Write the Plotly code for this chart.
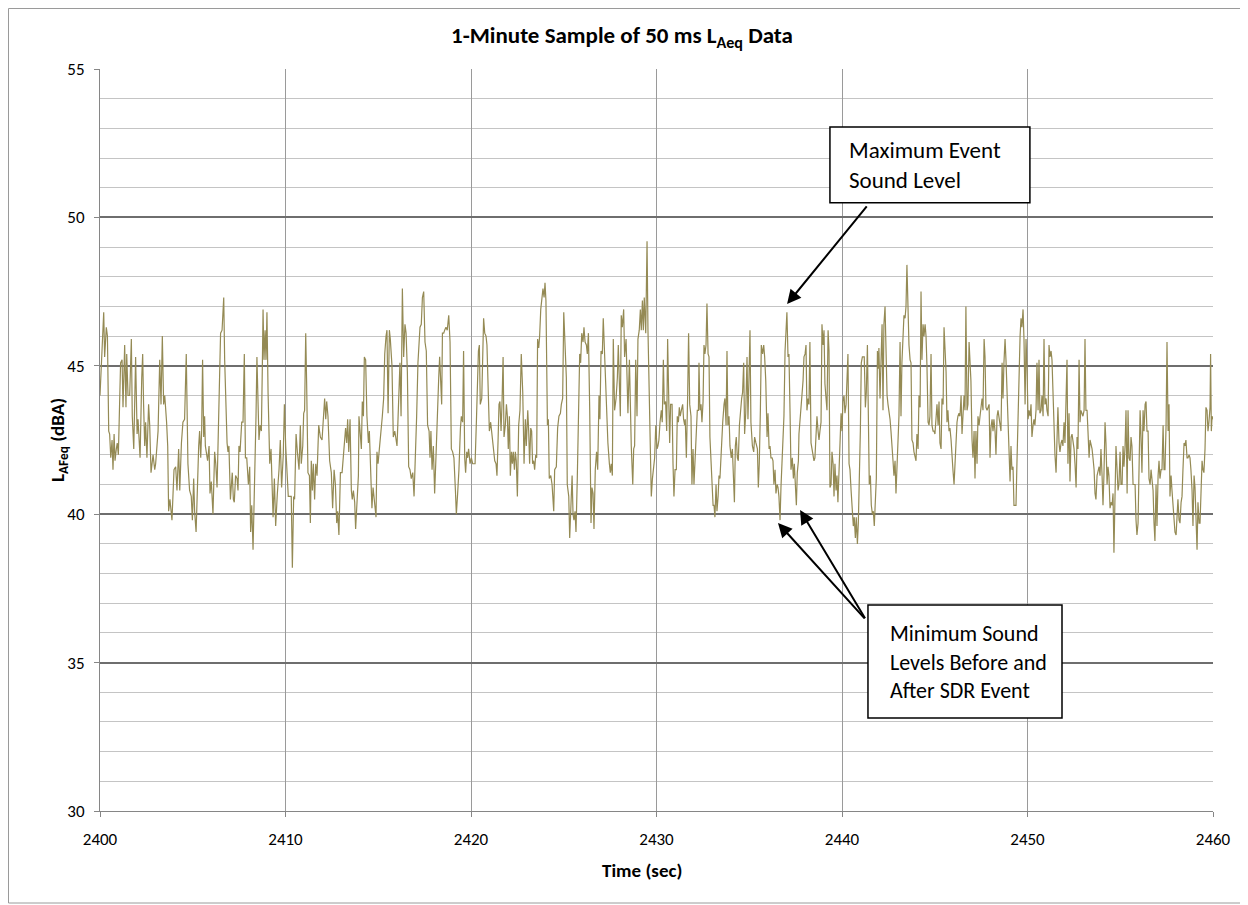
import numpy as np
import plotly.graph_objects as go

# Time offsets (s after 2400 s) and levels (dBA)
t_off = [
 0.00,0.20,0.25,0.34,0.40,0.47,0.52,0.58,0.65,0.70,0.76,0.81,0.88,0.93,0.99,1.04,1.11,1.19,1.24,1.33,1.40,1.44,1.51,1.60,1.69,1.74,1.82,1.92,2.00,2.05,2.10,2.16,2.25,2.30,2.35,2.41,2.46,2.53,2.62,2.68,2.75,2.86,2.95,3.00,3.13,3.22,3.29,3.36,3.43,3.49,3.59,3.65,3.70,3.77,3.88,3.99,4.08,4.15,4.24,4.30,4.39,4.47,4.56,4.65,4.74,4.83,4.92,4.98,5.05,5.10,5.18,5.28,
 5.32,5.37,5.43,5.48,5.53,5.59,5.64,5.68,5.75,5.80,5.88,5.93,6.00,6.09,6.18,6.24,6.31,6.40,6.50,6.58,6.67,6.72,6.79,6.85,6.90,6.95,7.03,7.13,7.19,7.24,7.31,7.39,7.44,7.49,7.55,7.64,7.71,7.78,7.84,7.91,8.00,8.07,8.12,8.18,8.25,8.34,8.41,8.46,8.52,8.57,8.63,8.70,8.75,8.79,8.84,8.90,8.95,9.00,9.06,9.11,9.15,9.22,9.27,9.33,9.40,9.47,9.56,9.65,9.72,9.79,9.88,9.94,10.01,10.08,10.15,10.22,10.31,10.37,10.44,10.49,10.57,10.64,
 10.73,10.80,10.85,10.93,10.98,11.03,11.09,11.14,11.21,11.29,11.34,11.39,11.45,11.50,11.57,11.63,11.70,11.79,11.88,11.97,12.04,12.11,12.17,12.22,12.29,12.38,12.47,12.54,12.62,12.69,12.76,12.81,12.88,12.96,13.05,13.14,13.24,13.30,13.35,13.41,13.48,13.55,13.60,13.66,13.73,13.78,13.85,13.93,13.96,14.02,14.09,14.14,14.20,14.25,14.32,14.39,14.47,14.52,14.59,14.66,14.72,14.81,14.88,14.93,14.99,15.06,15.13,15.22,15.29,15.35,15.42,15.47,15.53,15.60,15.65,15.74,15.81,15.89,15.94,16.01,16.06,
 16.17,16.23,16.30,16.37,16.44,16.50,16.57,16.64,16.71,16.78,16.86,16.93,17.00,17.07,17.14,17.20,17.25,17.32,17.38,17.45,17.52,17.59,17.66,17.74,17.79,17.84,17.90,17.97,18.04,18.11,18.19,18.26,18.31,18.37,18.42,18.46,18.53,18.58,18.65,18.72,18.80,18.87,18.94,19.01,19.08,19.16,19.21,19.28,19.35,19.43,19.48,19.55,19.60,19.66,19.71,19.77,19.82,19.87,19.95,20.02,20.09,20.16,20.22,20.29,20.34,20.40,20.45,20.50,20.58,20.63,20.68,20.74,20.81,20.86,20.93,20.99,21.06,21.13,21.20,21.28,21.35,21.40,21.46,
 21.51,21.56,21.62,21.67,21.73,21.78,21.85,21.91,21.96,22.01,22.07,22.12,22.18,22.23,22.28,22.34,22.39,22.44,22.50,22.57,22.64,22.71,22.79,22.86,22.93,22.98,23.06,23.11,23.16,23.22,23.27,23.32,23.38,23.43,23.49,23.54,23.59,23.65,23.70,23.76,23.83,23.88,23.94,23.99,24.04,24.12,24.17,24.22,24.30,24.37,24.46,24.51,24.60,24.67,24.74,24.82,24.87,24.94,25.00,25.07,25.14,25.19,25.27,25.32,25.37,25.45,25.50,25.55,25.61,25.66,25.73,25.81,25.86,25.91,25.97,26.04,26.09,26.15,26.22,26.27,26.33,26.40,26.47,26.52,26.58,26.63,26.70,26.77,26.83,
 26.90,26.95,27.01,27.08,27.13,27.19,27.24,27.31,27.38,27.46,27.51,27.56,27.62,27.67,27.74,27.82,27.89,27.94,28.00,28.05,28.10,28.16,28.23,28.28,28.36,28.41,28.46,28.54,28.59,28.64,28.72,28.77,28.82,28.88,28.95,29.00,29.07,29.13,29.18,29.24,29.29,29.34,29.42,29.49,29.54,29.61,29.67,29.72,29.78,29.85,29.90,29.96,30.03,30.08,30.13,30.19,30.26,30.31,30.37,30.42,30.49,30.55,30.60,30.66,30.71,30.76,30.84,30.89,30.94,31.00,31.07,31.12,31.18,31.23,31.28,31.34,31.41,31.46,31.52,31.55,31.61,31.68,31.73,31.79,31.86,31.91,31.97,32.02,32.08,32.15,32.20,32.26,
 32.29,32.34,32.40,32.45,32.51,32.56,32.61,32.67,32.72,32.78,32.83,32.88,32.94,32.99,33.05,33.10,33.15,33.21,33.26,33.32,33.37,33.42,33.50,33.57,33.64,33.69,33.75,33.80,33.85,33.91,33.96,34.03,34.09,34.14,34.20,34.25,34.30,34.36,34.41,34.47,34.54,34.59,34.64,34.70,34.75,34.81,34.88,34.93,34.99,35.04,35.09,35.17,35.24,35.29,35.36,35.44,35.49,35.54,35.60,35.65,35.72,35.78,35.83,35.89,35.96,36.01,36.07,36.12,36.17,36.23,36.28,36.33,36.39,36.44,36.50,36.55,36.60,36.66,36.71,36.77,36.82,36.87,36.93,36.98,37.03,37.09,37.14,37.20,37.25,37.32,37.38,37.43,37.48,37.54,37.59,37.65,
 37.68,37.74,37.79,37.84,37.90,37.95,38.01,38.06,38.11,38.17,38.22,38.27,38.33,38.38,38.44,38.49,38.54,38.60,38.65,38.71,38.76,38.81,38.87,38.92,38.98,39.03,39.08,39.14,39.19,39.25,39.30,39.35,39.41,39.46,39.52,39.57,39.62,39.68,39.73,39.78,39.84,39.89,39.95,40.00,40.05,40.11,40.16,40.22,40.27,40.32,40.38,40.43,40.49,40.54,40.61,40.66,40.72,40.77,40.83,40.88,40.93,40.99,41.04,41.10,41.15,41.20,41.26,41.31,41.37,41.42,41.47,41.53,41.58,41.64,41.69,41.74,41.80,41.85,41.91,41.96,41.99,42.05,42.10,42.16,42.21,42.26,42.32,42.37,42.43,42.48,42.53,42.59,42.64,42.70,42.75,42.80,42.86,42.91,42.96,43.02,
 43.07,43.13,43.18,43.23,43.29,43.34,43.40,43.45,43.50,43.56,43.61,43.67,43.72,43.77,43.83,43.88,43.94,43.99,44.04,44.10,44.15,44.21,44.26,44.31,44.37,44.42,44.48,44.53,44.58,44.64,44.69,44.74,44.80,44.85,44.91,44.96,45.01,45.07,45.12,45.18,45.23,45.28,45.34,45.39,45.45,45.50,45.55,45.61,45.66,45.71,45.77,45.82,45.88,45.93,45.98,46.04,46.09,46.15,46.20,46.25,46.31,46.36,46.42,46.47,46.52,46.58,46.63,46.68,46.74,46.79,46.85,46.90,46.95,47.01,47.06,47.12,47.17,47.22,47.28,47.33,47.39,47.44,47.49,47.55,47.60,47.66,47.71,47.76,47.82,47.87,47.93,47.98,48.03,48.09,48.14,48.19,48.25,48.30,48.36,48.41,
 48.46,48.52,48.57,48.63,48.68,48.73,48.79,48.84,48.90,48.95,49.00,49.06,49.11,49.16,49.22,49.27,49.33,49.38,49.43,49.49,49.54,49.60,49.65,49.70,49.76,49.81,49.87,49.92,49.97,50.03,50.08,50.14,50.19,50.24,50.30,50.35,50.40,50.46,50.51,50.57,50.62,50.67,50.73,50.78,50.84,50.89,50.94,51.00,51.05,51.11,51.16,51.21,51.27,51.32,51.38,51.43,51.48,51.54,51.59,51.64,51.70,51.75,51.81,51.86,51.91,51.97,52.02,52.08,52.13,52.18,52.24,52.29,52.35,52.40,52.45,52.51,52.56,52.62,52.67,52.72,52.78,52.83,52.88,52.94,52.99,53.05,53.10,53.15,53.21,53.26,53.32,53.37,53.42,53.48,53.53,53.59,53.64,53.69,53.75,53.80,
 53.86,53.91,53.96,54.02,54.07,54.12,54.18,54.23,54.29,54.34,54.39,54.45,54.50,54.56,54.61,54.66,54.72,54.77,54.83,54.88,54.93,54.99,55.04,55.10,55.15,55.20,55.26,55.31,55.37,55.42,55.47,55.53,55.58,55.63,55.69,55.74,55.80,55.85,55.90,55.96,56.01,56.07,56.12,56.17,56.23,56.28,56.34,56.39,56.44,56.50,56.55,56.61,56.66,56.71,56.77,56.82,56.87,56.93,56.98,57.04,57.09,57.14,57.20,57.25,57.31,57.36,57.41,57.47,57.52,57.58,57.63,57.68,57.74,57.79,57.84,57.90,57.95,58.01,58.06,58.11,58.17,58.22,58.28,58.33,58.38,58.44,58.49,58.54,58.60,58.65,58.71,58.76,58.81,58.87,58.92,58.98,59.03,59.08,59.14,59.19,59.25,59.30,59.35,59.41,59.46,59.51,59.57,59.62,59.68,59.73,59.78,59.84,59.87,59.91,59.95,60.00,
]

laeq = [
 44.0,46.8,45.3,46.3,46.0,42.8,42.7,41.9,42.5,41.5,42.7,41.8,42.2,42.4,42.0,43.3,45.1,45.2,43.6,45.7,43.6,45.4,44.0,44.0,45.9,43.3,42.2,45.3,42.7,43.2,42.7,41.9,44.6,45.4,43.7,42.3,43.1,41.9,43.7,43.0,41.4,42.0,41.5,41.7,42.8,45.2,43.7,46.0,43.7,44.0,43.1,42.3,40.1,40.5,39.8,41.5,41.6,40.8,42.2,40.8,42.4,43.1,43.2,45.4,41.7,40.8,40.6,39.8,41.2,40.1,39.4,41.7,
 42.3,42.8,41.9,42.8,45.2,42.6,43.3,42.3,41.9,41.8,42.3,40.7,41.1,40.0,42.1,41.7,40.9,43.2,46.1,46.2,47.3,45.2,43.6,42.4,42.1,42.3,40.5,41.4,40.5,40.4,41.3,41.2,40.8,42.3,42.1,43.1,43.1,45.4,41.9,41.9,41.0,41.6,39.4,40.3,38.8,41.0,43.3,45.3,43.9,42.5,43.0,42.8,44.9,46.9,45.2,46.2,45.2,46.8,44.1,43.1,41.7,42.2,41.3,39.9,41.2,39.6,40.7,41.5,42.5,40.9,42.0,43.7,42.3,41.3,40.6,40.6,40.6,38.2,40.6,40.5,42.7,42.1,
 41.5,43.0,41.7,42.3,43.4,43.5,46.1,44.4,41.4,41.3,39.7,41.8,40.8,41.7,40.5,41.7,41.3,43.0,42.6,42.5,43.3,43.9,43.2,43.8,43.3,41.8,41.4,40.2,41.5,41.0,39.7,40.1,39.3,41.4,41.4,42.2,42.9,42.4,43.2,42.1,43.2,40.8,40.5,40.8,40.4,39.5,40.4,41.3,43.3,42.9,42.2,43.8,43.3,45.3,45.2,43.3,42.4,42.8,41.4,40.2,40.9,40.3,39.9,42.1,41.7,42.2,42.6,43.3,43.9,45.4,46.0,46.2,43.4,46.2,45.9,45.0,42.6,42.8,42.6,42.3,43.1,
 45.1,43.3,47.6,45.3,46.4,46.1,44.8,41.6,41.5,41.2,41.4,40.6,41.7,43.3,45.1,46.0,46.3,46.4,47.3,47.5,45.8,45.5,43.0,42.8,41.9,42.8,41.5,42.3,40.7,41.9,43.7,44.6,45.3,44.5,43.7,46.1,46.1,46.2,46.3,46.2,46.7,45.8,42.2,42.1,41.9,40.8,40.0,40.7,41.5,42.9,43.3,43.1,45.5,41.9,41.4,42.1,41.9,42.2,41.7,41.9,41.7,41.7,41.7,43.1,44.3,45.5,45.7,43.7,43.9,45.0,46.6,46.1,46.0,45.7,44.2,42.8,43.1,42.6,42.2,41.8,41.7,41.3,42.5,
 43.7,43.8,42.8,43.7,45.3,42.6,43.0,43.7,43.3,42.2,43.3,41.3,42.1,41.7,42.1,41.5,42.1,41.8,40.6,43.0,43.5,45.4,44.1,41.7,43.2,42.3,43.5,42.8,41.7,42.9,42.8,41.7,41.8,41.5,42.0,41.9,45.9,45.6,46.0,46.9,47.3,47.6,47.3,47.8,47.2,43.0,43.2,41.2,41.3,41.0,40.1,41.5,41.6,42.9,43.3,43.4,43.7,43.9,46.8,45.8,44.6,41.0,40.6,39.2,40.0,41.3,40.0,39.8,40.1,39.4,41.2,43.5,45.4,45.1,46.1,45.8,46.3,45.8,45.7,45.4,46.1,43.5,39.7,40.9,40.7,39.5,41.5,42.1,41.5,
 44.0,43.2,45.5,45.4,46.6,45.5,45.2,44.0,42.4,41.7,41.4,41.7,41.3,45.9,43.5,43.9,44.6,45.7,44.6,43.3,46.7,46.3,46.9,45.3,45.9,44.6,43.4,45.2,43.4,42.3,41.0,42.2,42.3,45.2,43.3,45.9,46.2,46.9,46.2,47.2,46.2,47.3,46.1,49.2,46.2,44.2,41.9,40.6,41.2,41.8,41.9,43.0,42.2,42.3,42.5,43.1,43.5,43.1,45.2,43.7,43.8,42.8,45.9,43.9,42.4,43.7,43.7,41.7,40.6,41.5,41.5,43.3,43.1,43.6,43.3,43.5,43.7,43.2,43.0,43.2,41.9,44.0,46.1,43.7,43.3,41.0,42.2,41.0,41.7,42.8,43.5,43.5,
 45.1,43.5,43.7,43.1,43.8,45.7,45.4,45.7,47.1,45.4,45.3,42.6,41.7,40.7,40.3,40.3,39.9,41.0,40.1,40.6,41.3,41.2,42.4,43.1,43.7,43.9,43.0,45.5,43.0,43.3,42.3,41.9,42.2,41.6,40.4,42.3,42.6,41.9,41.8,43.0,43.7,43.9,44.1,45.1,42.7,43.4,45.3,43.2,44.7,46.2,43.1,42.3,42.1,42.6,42.4,42.2,40.9,41.7,43.5,45.7,45.4,45.7,45.3,44.5,42.6,43.4,42.2,42.3,41.9,41.9,41.8,41.0,41.5,40.7,41.0,40.9,40.6,39.8,40.9,41.9,43.0,43.3,45.5,46.2,46.8,45.3,45.4,43.4,41.5,41.9,41.2,41.7,40.8,40.3,41.4,41.8,
 42.7,43.1,43.5,44.0,44.5,45.3,45.4,45.7,43.5,43.9,43.7,45.8,42.4,42.2,41.9,41.8,41.9,42.6,43.3,42.8,42.5,42.8,43.1,46.4,45.7,46.2,44.4,43.9,43.5,46.2,45.5,40.9,41.0,42.1,41.7,40.6,41.7,40.8,41.3,40.4,41.5,41.8,43.4,42.8,43.8,44.0,43.4,43.7,45.1,45.4,41.7,41.5,40.8,40.4,39.6,39.9,39.2,39.9,39.0,39.7,41.0,42.8,45.1,45.3,45.3,45.3,43.6,44.1,45.7,43.0,41.0,41.3,40.3,40.0,40.1,39.6,40.3,41.2,45.5,44.9,45.6,43.9,45.1,46.4,43.5,46.4,47.0,45.5,44.0,43.7,43.5,43.2,42.8,42.4,41.8,41.3,41.8,40.7,41.7,42.6,
 43.3,45.8,43.3,45.1,46.4,46.7,46.6,47.0,48.4,46.2,45.7,45.2,45.1,42.5,42.4,42.1,41.9,41.8,42.7,42.2,44.0,43.6,47.5,45.2,46.4,46.0,46.4,46.0,45.0,43.1,43.0,43.3,45.4,43.0,42.8,42.8,42.7,43.1,43.7,43.0,43.8,42.4,42.2,43.9,43.7,46.3,45.7,44.8,43.1,43.5,42.8,42.9,42.5,41.8,41.5,41.0,41.8,42.6,43.1,43.3,43.4,43.3,44.0,42.7,43.4,44.0,43.5,47.0,43.5,43.7,45.8,45.3,44.5,42.5,41.9,42.8,41.2,42.8,41.7,43.3,43.0,43.3,43.6,43.9,43.5,45.9,45.3,43.6,43.5,43.6,43.7,41.9,42.9,43.2,42.8,43.2,42.8,42.0,43.3,43.5,
 43.3,43.1,42.8,45.1,43.9,45.1,45.9,45.2,44.0,42.8,41.9,41.1,42.3,41.5,41.6,40.3,40.3,40.3,41.7,43.5,45.1,46.0,46.6,46.3,46.9,45.9,43.7,45.9,45.0,43.2,43.5,43.3,43.7,42.6,43.0,43.2,43.0,43.5,45.1,43.5,45.2,43.4,43.5,44.0,43.3,45.9,43.7,43.9,43.5,43.3,45.7,45.3,45.5,45.2,44.0,42.7,42.0,41.4,42.8,43.6,42.4,42.1,42.4,42.5,42.3,43.1,42.4,43.6,45.2,41.7,43.4,41.1,42.6,42.7,42.5,42.2,41.7,40.9,42.6,42.2,45.2,43.1,43.5,43.4,43.3,43.5,45.9,43.5,43.5,42.8,41.9,42.5,42.4,42.2,41.9,41.5,40.7,40.5,41.3,41.5,
 41.6,41.3,42.2,41.3,40.3,41.3,43.1,42.4,41.0,41.6,41.3,40.2,40.4,40.3,40.7,38.7,40.6,42.3,41.5,40.8,41.0,42.1,41.0,41.0,42.3,41.6,42.3,43.5,40.7,43.5,41.9,41.8,42.6,42.3,41.0,41.0,41.0,39.8,39.3,39.7,41.0,43.5,42.6,41.4,43.5,42.8,43.7,43.8,42.8,42.8,41.2,41.0,41.5,41.0,40.8,39.7,39.1,41.0,39.6,41.3,41.8,41.2,41.5,41.5,43.0,41.5,41.5,43.0,45.8,42.8,43.7,40.6,41.3,40.8,40.3,39.9,39.4,39.3,39.8,40.5,39.8,39.7,40.4,40.6,41.5,42.4,42.3,42.5,41.9,41.9,42.0,41.9,41.5,40.8,39.6,41.3,40.9,39.7,38.8,40.4,39.7,39.7,40.6,41.8,41.5,41.4,42.2,43.6,43.5,42.8,43.1,43.6,45.4,42.8,43.3,43.2,
]

t0 = 2400
x_ticks = [2400, 2410, 2420, 2430, 2440, 2450, 2460]
y_ticks = [30, 35, 40, 45, 50, 55]

time = t0 + np.array(t_off)

FONT = "Calibri, Carlito, Lato, sans-serif"

# The page body adds an 8 px offset; figure sized so the plot area lands where the reference has it
W, H = 1240, 897
OFF = 8

fig = go.Figure()
fig.add_trace(go.Scatter(x=time, y=laeq, mode="lines",
                         line=dict(color="#948A54", width=1.2),
                         showlegend=False, hoverinfo="skip"))

fig.update_layout(
    width=W, height=H,
    margin=dict(l=92, r=35, t=61, b=94),
    paper_bgcolor="white", plot_bgcolor="white",
    font=dict(family=FONT, size=17, color="#000000"),
    title=dict(text="<b>1-Minute Sample of 50 ms L<sub>Aeq</sub> Data</b>",
               x=(622 - OFF) / W, xref="container", y=1 - (35 - OFF) / H, yref="container",
               xanchor="center", yanchor="middle",
               font=dict(family=FONT, size=23, color="#000000")),
    showlegend=False,
)

fig.update_xaxes(range=[2400, 2460], tickvals=x_ticks, ticks="outside", ticklen=5,
                 tickcolor="#868686", showgrid=True, gridcolor="#9a9a9a", gridwidth=1,
                 showline=True, linecolor="#868686", linewidth=1, zeroline=False,
                 ticklabelstandoff=8,
                 tickfont=dict(family=FONT, size=17))
fig.update_yaxes(range=[30, 55], tickvals=y_ticks, ticks="outside", ticklen=5,
                 tickcolor="#868686", showgrid=True, gridcolor="#6e6e6e", gridwidth=2,
                 showline=True, linecolor="#868686", linewidth=1, zeroline=False,
                 ticklabelstandoff=6,
                 minor=dict(dtick=1, showgrid=True, gridcolor="#c4c4c4", gridwidth=1, ticks=""),
                 tickfont=dict(family=FONT, size=17))

# axis titles
fig.add_annotation(text="<b>L<sub>AFeq</sub> (dBA)</b>", xref="paper", yref="paper",
                   x=(44 - 100) / 1113, y=0.5, textangle=-90, showarrow=False,
                   font=dict(family=FONT, size=19))
fig.add_annotation(text="<b>Time (sec)</b>", xref="paper", yref="paper",
                   x=(642 - 100) / 1113, y=(811 - 884) / 742, showarrow=False,
                   font=dict(family=FONT, size=19))

# outer chart border
fig.add_shape(type="rect", xref="paper", yref="paper",
              x0=(8.5 - 100) / 1113, x1=(1243 - 100) / 1113,
              y0=(811 - 903) / 742, y1=(811 - 8.5) / 742,
              line=dict(color="#9a9a9a", width=1), fillcolor="rgba(0,0,0,0)", layer="below")

# callout boxes
fig.add_shape(type="rect", xref="x", yref="y", x0=2439.35, x1=2450.13, y0=50.49, y1=53.05,
              line=dict(color="black", width=1.5), fillcolor="white")
fig.add_shape(type="rect", xref="x", yref="y", x0=2441.40, x1=2451.86, y0=33.13, y1=36.94,
              line=dict(color="black", width=1.5), fillcolor="white")
fig.add_annotation(text="Maximum Event<br>Sound Level", xref="x", yref="y",
                   x=2440.25, y=51.77, xanchor="left", yanchor="middle", align="left",
                   showarrow=False, font=dict(family=FONT, size=23))
fig.add_annotation(text="Minimum Sound<br>Levels Before and<br>After SDR Event", xref="x", yref="y",
                   x=2442.5, y=35.03, xanchor="left", yanchor="middle", align="left",
                   showarrow=False, font=dict(family=FONT, size=22))

# arrows
arrow_style = dict(showarrow=True, arrowhead=2, arrowsize=1.4, arrowwidth=2,
                   arrowcolor="black", axref="x", ayref="y", xref="x", yref="y", text="")
fig.add_annotation(x=2437.04, y=47.08, ax=2441.40, ay=50.42, **arrow_style)
fig.add_annotation(x=2436.55, y=39.70, ax=2441.29, ay=36.44, **arrow_style)
fig.add_annotation(x=2437.74, y=40.14, ax=2441.29, ay=36.44, **arrow_style)

fig.write_html("out.html")
